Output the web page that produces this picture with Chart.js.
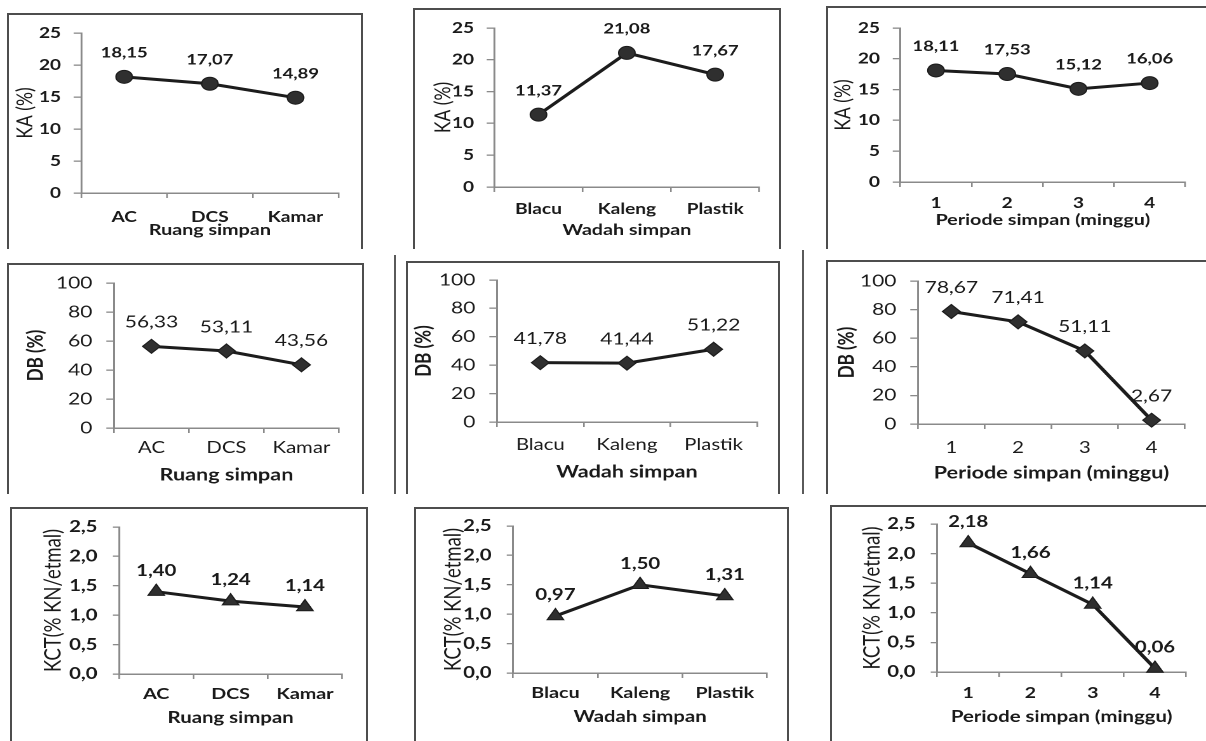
<!DOCTYPE html>
<html><head><meta charset="utf-8">
<script src="https://cdn.jsdelivr.net/npm/chart.js@4.4.0/dist/chart.umd.min.js"></script>
<style>
html,body{margin:0;padding:0;background:#fff;width:1206px;height:741px;overflow:hidden;position:relative;}
.box{position:absolute;border:2px solid #4d4d4d;border-bottom:none;box-sizing:border-box}
.vl{position:absolute;width:0;border-left:2px solid #5a5a5a}
canvas{position:absolute;transform-origin:0 0}
</style></head><body>
<div class="box" style="left:7px;top:13px;width:356px;height:236px"></div>
<div class="box" style="left:413px;top:8px;width:368px;height:241px"></div>
<div class="box" style="left:826px;top:6px;width:390px;height:243px"></div>
<div class="box" style="left:7px;top:263px;width:357px;height:231px"></div>
<div class="box" style="left:406px;top:261px;width:374px;height:233px"></div>
<div class="box" style="left:826px;top:260px;width:390px;height:234px"></div>
<div class="vl" style="left:394px;top:255px;height:239px"></div>
<div class="vl" style="left:802px;top:250px;height:244px"></div>
<div class="box" style="left:10px;top:507px;width:358px;height:240px"></div>
<div class="box" style="left:414px;top:507px;width:375px;height:240px"></div>
<div class="box" style="left:830px;top:505px;width:390px;height:242px"></div>
<script>
// ---- data ----
const ruangCategories = ['AC', 'DCS', 'Kamar'];
const wadahCategories = ['Blacu', 'Kaleng', 'Plastik'];
const periodeCategories = ['1', '2', '3', '4'];

const kaRuang = [18.15, 17.07, 14.89];
const kaWadah = [11.37, 21.08, 17.67];
const kaPeriode = [18.11, 17.53, 15.12, 16.06];

const dbRuang = [56.33, 53.11, 43.56];
const dbWadah = [41.78, 41.44, 51.22];
const dbPeriode = [78.67, 71.41, 51.11, 2.67];

const kctRuang = [1.40, 1.24, 1.14];
const kctWadah = [0.97, 1.50, 1.31];
const kctPeriode = [2.18, 1.66, 1.14, 0.06];

const kaTicks = [0, 5, 10, 15, 20, 25];
const dbTicks = [0, 20, 40, 60, 80, 100];
const kctTicks = [0, 0.5, 1.0, 1.5, 2.0, 2.5];

const yTitles = ['KA (%)', 'DB (%)', 'KCT(% KN/etmal)'];
const xTitles = ['Ruang simpan', 'Wadah simpan', 'Periode simpan (minggu)'];

// ---- layout & style (screen coordinates) ----
const STRETCH = 1.27;
const FONT = "Lato, 'Open Sans', sans-serif";
const rowStyles = [
  {tickSize:15, tickWeight:'bold', labelSize:14.5, labelWeight:'bold', yTitleSize:17.5, yTitleWeight:'normal',
   xTickSize:15, xTickWeight:'bold', xTitleSize:15.5, xTitleWeight:'bold', yTickLen:6, yTickPad:10, xTickLen:5,
   pointStyle:'circle', radius:6.5, labelOffset:24, decimals:0},
  {tickSize:16.5, tickWeight:'normal', labelSize:16.5, labelWeight:'normal', yTitleSize:17, yTitleWeight:'bold',
   xTickSize:16, xTickWeight:'normal', xTitleSize:17, xTitleWeight:'bold', yTickLen:6, yTickPad:11, xTickLen:5,
   pointStyle:'rectRot', radius:7, labelOffset:24, decimals:0},
  {tickSize:16, tickWeight:'bold', labelSize:16, labelWeight:'bold', yTitleSize:18.5, yTitleWeight:'normal',
   xTickSize:15.5, xTickWeight:'bold', xTitleSize:16, xTitleWeight:'bold', yTickLen:5, yTickPad:12, xTickLen:5,
   pointStyle:'triangle', radius:7.5, labelOffset:21, decimals:1}
];

const panels = [
  {row:0, col:0, cats:ruangCategories, vals:kaRuang, ticks:kaTicks, xL:81, xR:338, yT:33, yB:193, ylabX:25, xTickCY:217, xTitleCY:230},
  {row:0, col:1, cats:wadahCategories, vals:kaWadah, ticks:kaTicks, xL:494, xR:759, yT:28, yB:187, ylabX:443, xTickCY:209, xTitleCY:230},
  {row:0, col:2, cats:periodeCategories, vals:kaPeriode, ticks:kaTicks, xL:900, xR:1185, yT:28, yB:182, ylabX:843, xTickCY:203, xTitleCY:220},
  {row:1, col:0, cats:ruangCategories, vals:dbRuang, ticks:dbTicks, xL:114, xR:339, yT:283, yB:428, ylabX:36, xTickCY:448, xTitleCY:475},
  {row:1, col:1, cats:wadahCategories, vals:dbWadah, ticks:dbTicks, xL:497, xR:757, yT:280, yB:422, ylabX:424, xTickCY:445, xTitleCY:472},
  {row:1, col:2, cats:periodeCategories, vals:dbPeriode, ticks:dbTicks, xL:918, xR:1185, yT:281, yB:424, ylabX:847, xTickCY:448, xTitleCY:473},
  {row:2, col:0, cats:ruangCategories, vals:kctRuang, ticks:kctTicks, xL:119, xR:342, yT:527, yB:674, ylabX:53, xTickCY:694, xTitleCY:718},
  {row:2, col:1, cats:wadahCategories, vals:kctWadah, ticks:kctTicks, xL:513, xR:767, yT:526, yB:673, ylabX:453, xTickCY:693, xTitleCY:717},
  {row:2, col:2, cats:periodeCategories, vals:kctPeriode, ticks:kctTicks, xL:937, xR:1186, yT:524, yB:672, ylabX:872, xTickCY:693, xTitleCY:717}
];

const TEXT = '#1a1a1a';
const AXIS = '#8a8a8a';

const valueLabels = {
  id: 'valueLabels',
  afterDatasetsDraw(chart, args, opts) {
    const ctx = chart.ctx;
    const meta = chart.getDatasetMeta(0);
    const data = chart.data.datasets[0].data;
    ctx.save();
    ctx.font = opts.font;
    ctx.fillStyle = TEXT;
    ctx.textAlign = 'center';
    ctx.textBaseline = 'middle';
    meta.data.forEach((pt, i) => {
      ctx.fillText(data[i].toFixed(2).replace('.', ','), pt.x, pt.y - opts.offset);
    });
    ctx.restore();
  }
};

panels.forEach(p => {
  const st = rowStyles[p.row];
  const S = STRETCH;
  const lhY = st.yTitleSize * 1.2;
  const L = p.ylabX - S * lhY / 2;
  const yW = (p.xL - L) / S;
  const plotW = (p.xR - p.xL) / S;
  const w = Math.ceil(yW + plotW + 15);
  const padR = w - yW - plotW;
  const padTop = 32;
  const plotH = p.yB - p.yT;
  const H = p.xTitleCY - p.yB + st.xTitleSize * 1.2 / 2;
  const xPad = p.xTickCY - p.yB - st.xTickLen - st.xTickSize * 1.2 / 2;
  const h = Math.ceil(padTop + plotH + H);
  const padB = h - (padTop + plotH + H);

  const cv = document.createElement('canvas');
  cv.width = w; cv.height = h;
  cv.style.left = L + 'px';
  cv.style.top = (p.yT - padTop) + 'px';
  cv.style.transform = 'scaleX(' + S + ')';
  document.body.appendChild(cv);

  const tickVals = p.ticks;
  new Chart(cv, {
    type: 'line',
    data: {
      labels: p.cats,
      datasets: [{
        data: p.vals,
        borderColor: '#1c1c1c',
        borderWidth: 3,
        pointStyle: st.pointStyle,
        pointRadius: st.radius,
        pointHoverRadius: st.radius,
        pointBackgroundColor: '#2f2f2f',
        pointBorderColor: '#1c1c1c',
        pointBorderWidth: 1,
        tension: 0,
        clip: false
      }]
    },
    options: {
      responsive: false,
      animation: false,
      devicePixelRatio: 2,
      layout: {padding: {top: padTop, right: padR, left: 0, bottom: padB}},
      plugins: {
        legend: {display: false},
        tooltip: {enabled: false},
        valueLabels: {font: st.labelWeight + ' ' + st.labelSize + 'px ' + FONT, offset: st.labelOffset}
      },
      scales: {
        x: {
          type: 'category',
          offset: true,
          grid: {offset: true, drawOnChartArea: false, drawTicks: true, tickLength: st.xTickLen, color: AXIS, lineWidth: 1.3},
          border: {display: true, color: AXIS, width: 1.5},
          ticks: {color: TEXT, padding: xPad, maxRotation: 0, autoSkip: false,
                  font: {family: FONT, size: st.xTickSize, weight: st.xTickWeight}},
          title: {display: true, text: xTitles[p.col], color: TEXT, padding: {top: 0, bottom: 0},
                  font: {family: FONT, size: st.xTitleSize, weight: st.xTitleWeight}},
          afterFit(s) { s.height = H; }
        },
        y: {
          min: tickVals[0],
          max: tickVals[tickVals.length - 1],
          afterBuildTicks(s) { s.ticks = tickVals.map(v => ({value: v})); },
          grid: {drawOnChartArea: false, drawTicks: true, tickLength: st.yTickLen, color: AXIS, lineWidth: 1.3},
          border: {display: true, color: AXIS, width: 1.5},
          ticks: {color: TEXT, padding: st.yTickPad,
                  font: {family: FONT, size: st.tickSize, weight: st.tickWeight},
                  callback: v => v.toFixed(st.decimals).replace('.', ',')},
          title: {display: true, text: yTitles[p.row], color: TEXT, padding: {top: 0, bottom: 0},
                  font: {family: FONT, size: st.yTitleSize, weight: st.yTitleWeight}},
          afterFit(s) { s.width = yW; }
        }
      }
    },
    plugins: [valueLabels]
  });
});
</script>
</body></html>
